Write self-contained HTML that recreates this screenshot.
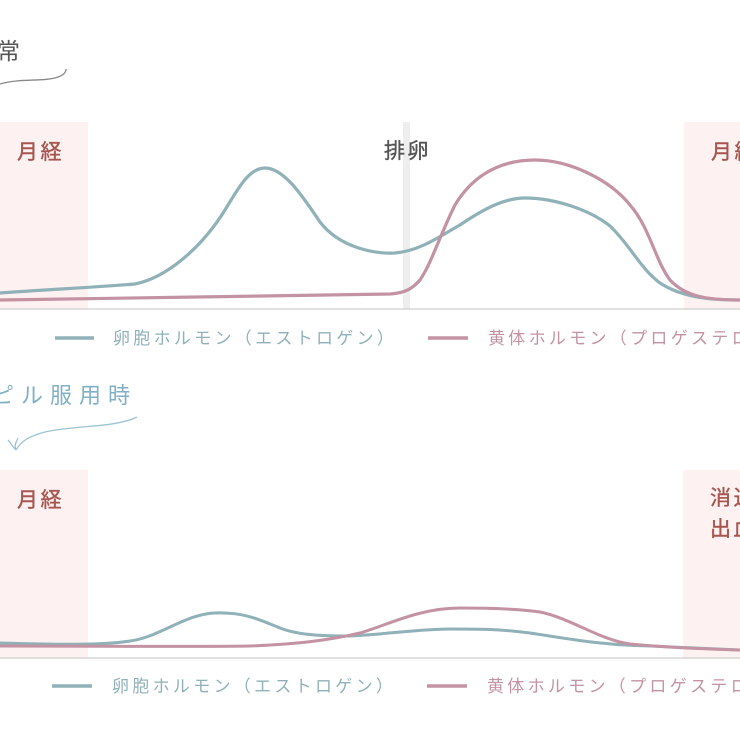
<!DOCTYPE html>
<html><head><meta charset="utf-8"><style>
html,body{margin:0;padding:0;background:#fff;width:740px;height:740px;overflow:hidden}
svg text{font-family:"Liberation Sans","Noto Sans CJK JP",sans-serif}
</style></head><body>
<svg width="740" height="740" viewBox="0 0 740 740" xmlns="http://www.w3.org/2000/svg">
<!-- top chart -->
<text x="-3" y="59" font-size="23" fill="#555">常</text>
<path d="M0,84 C20,78 45,82 58,77 C64,75 66,72 66,69" fill="none" stroke="#888" stroke-width="1.3"/>
<rect x="0" y="122" width="88" height="187" fill="#fdf1f1"/>
<rect x="684" y="122" width="56" height="187" fill="#fdf1f1"/>
<rect x="403" y="122" width="7" height="187" fill="#eeeeee"/>
<line x1="0" y1="309" x2="740" y2="309" stroke="#cfcfcf" stroke-width="1.2"/>
<text x="17" y="159" font-size="21" fill="#a6564f" stroke="#a6564f" stroke-width="0.4" letter-spacing="2.5">月経</text>
<text x="384" y="158" font-size="21" fill="#555" stroke="#555" stroke-width="0.4" letter-spacing="2.5">排卵</text>
<text x="711" y="159" font-size="21" fill="#a6564f" stroke="#a6564f" stroke-width="0.4" letter-spacing="2.5">月経</text>
<path d="M0,293 C40,290 100,287 135,284 C165,278 200,250 225,210 C240,185 250,168 265,168 C285,168 305,200 320,222 C340,248 375,254 395,253 C420,251 440,236 460,225 C485,208 505,198 525,198 C555,198 590,210 610,226 C630,245 640,268 660,283 C680,296 705,300 740,300" fill="none" stroke="#8fb1b7" stroke-width="3.2"/>
<path d="M0,300 C100,298 300,296 390,294 C405,293 412,289 420,280 C432,262 440,235 455,205 C470,180 495,160 535,160 C570,160 610,180 630,205 C650,228 655,260 670,280 C685,296 705,300 740,300" fill="none" stroke="#c493a3" stroke-width="3.2"/>
<line x1="55" y1="338" x2="94" y2="338" stroke="#8fb1b7" stroke-width="3.5"/>
<text x="113" y="344" font-size="17" fill="#8fb1b7" letter-spacing="3.3">卵胞ホルモン（エストロゲン）</text>
<line x1="428" y1="338" x2="468" y2="338" stroke="#c493a3" stroke-width="3.5"/>
<text x="488" y="344" font-size="17" fill="#c493a3" letter-spacing="3.3">黄体ホルモン（プロゲステロン）</text>
<!-- bottom chart -->
<text x="-8" y="403" font-size="22" fill="#7fb0c4" letter-spacing="7">ピル服用時</text>
<path d="M137,417 C115,428 75,425 45,432 C30,436 22,440 16,450 M16,450 C12,446 10,442 8,440 M16,450 C14,446 16,442 18,438" fill="none" stroke="#9cc3d2" stroke-width="1.3"/>
<rect x="0" y="470" width="88" height="188" fill="#fdf1f1"/>
<rect x="683" y="470" width="57" height="188" fill="#fdf1f1"/>
<line x1="0" y1="658" x2="740" y2="658" stroke="#cfcfcf" stroke-width="1.2"/>
<text x="17" y="507" font-size="21" fill="#a6564f" stroke="#a6564f" stroke-width="0.4" letter-spacing="2.5">月経</text>
<text x="710" y="505" font-size="21" fill="#a6564f" stroke="#a6564f" stroke-width="0.4" letter-spacing="2.5">消退</text>
<text x="710" y="536" font-size="21" fill="#a6564f" stroke="#a6564f" stroke-width="0.4" letter-spacing="2.5">出血</text>
<path d="M0,643 C40,644 100,646 130,641 C160,637 185,614 215,613 C245,612 260,620 280,628 C300,636 330,636 350,636 C390,634 420,629 450,629 C480,629 500,629 530,633 C570,639 600,645 650,646 C690,648 720,649 740,650" fill="none" stroke="#8fb1b7" stroke-width="3"/>
<path d="M0,646 C100,646 200,647 250,646 C300,644 330,640 360,633 C390,624 420,608 460,608 C490,608 520,609 540,612 C570,618 600,640 630,644 C670,648 710,649 740,650" fill="none" stroke="#c493a3" stroke-width="3"/>
<line x1="52" y1="686" x2="92" y2="686" stroke="#8fb1b7" stroke-width="3.5"/>
<text x="112" y="692" font-size="17" fill="#8fb1b7" letter-spacing="3.3">卵胞ホルモン（エストロゲン）</text>
<line x1="427" y1="686" x2="467" y2="686" stroke="#c493a3" stroke-width="3.5"/>
<text x="487" y="692" font-size="17" fill="#c493a3" letter-spacing="3.3">黄体ホルモン（プロゲステロン）</text>
</svg>
</body></html>
